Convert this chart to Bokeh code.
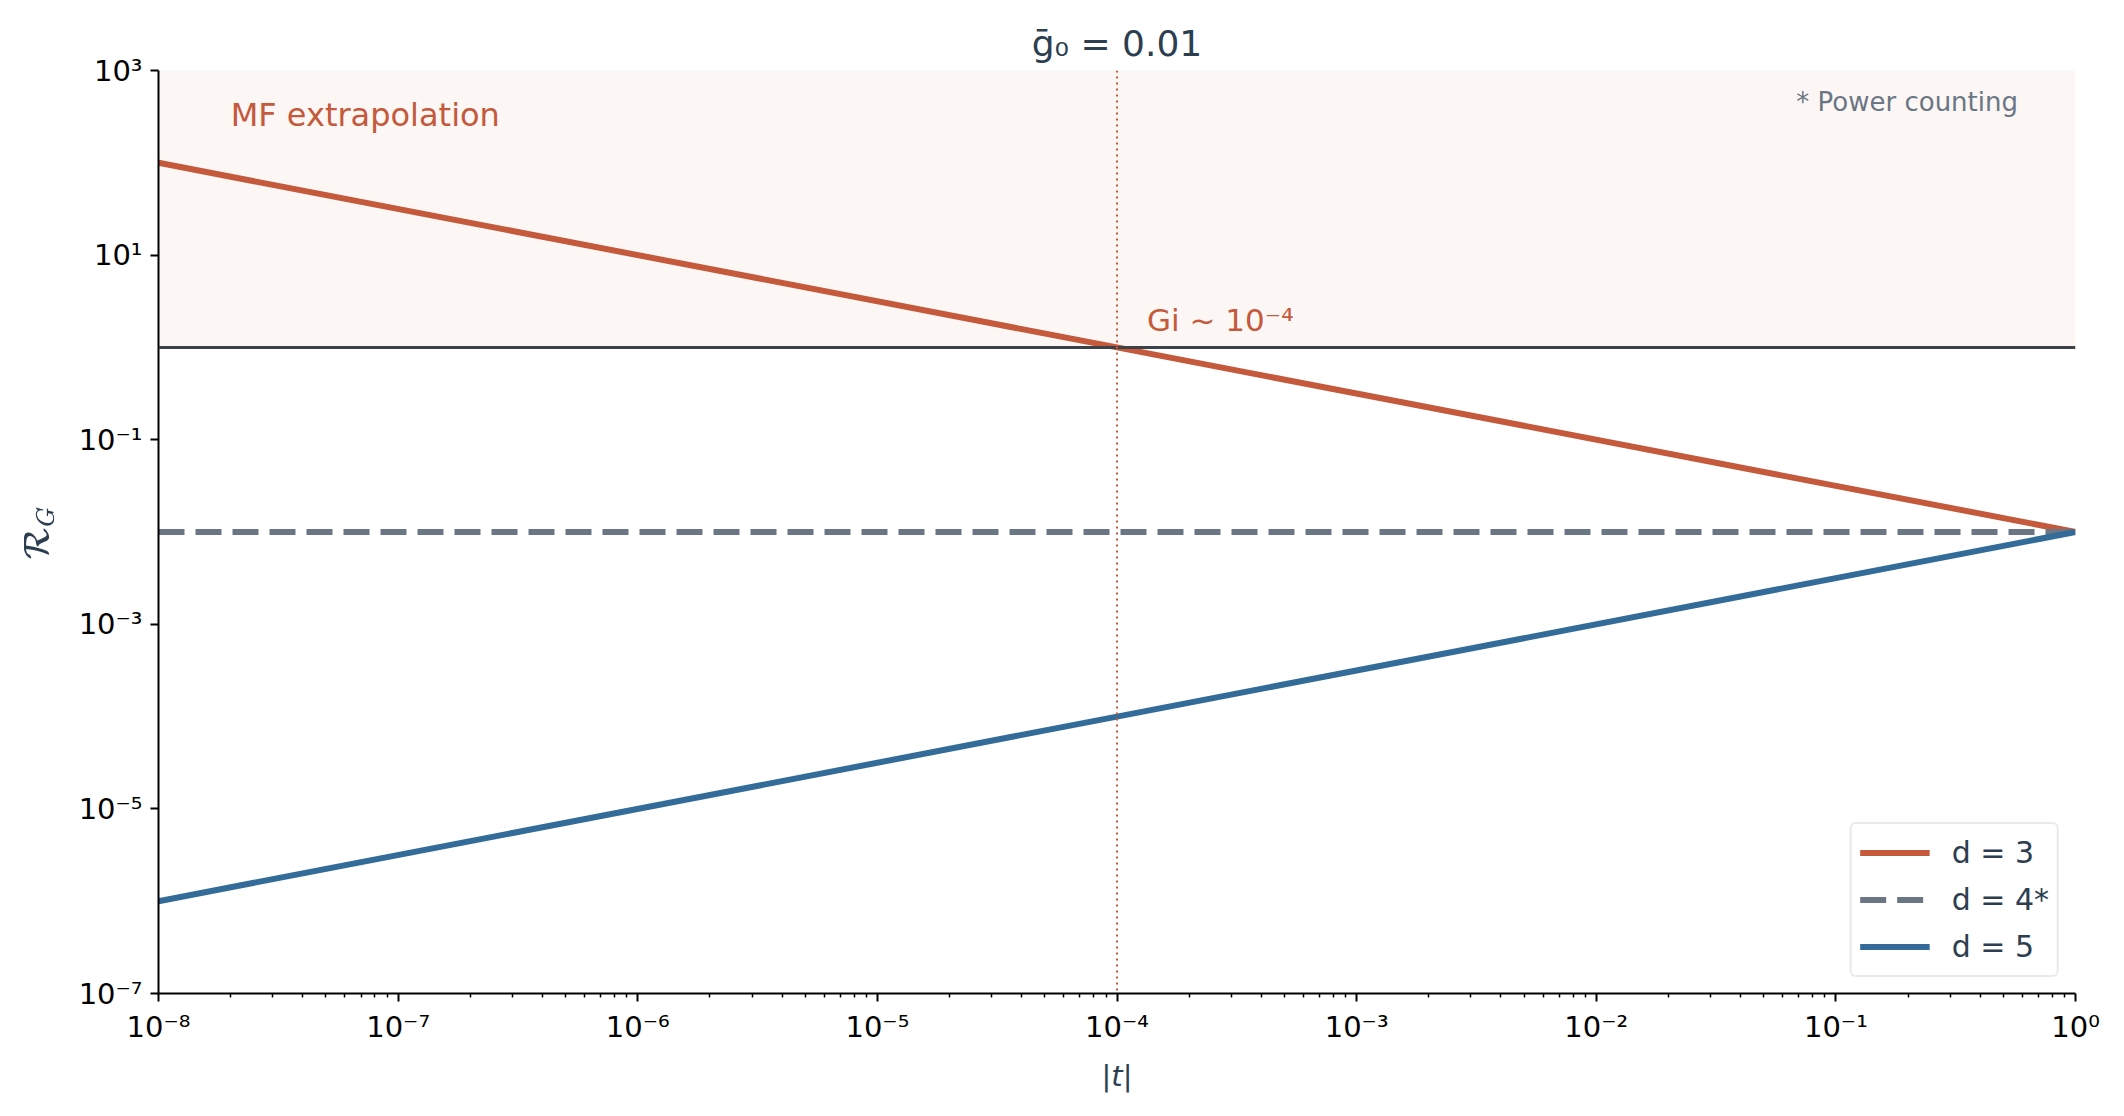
import numpy as np
from bokeh.plotting import figure
from bokeh.models import (Range1d, BoxAnnotation, Span, Label, Legend, LegendItem,
                          FixedTicker, CustomJSTickFormatter)
from bokeh.embed import file_html
from bokeh.resources import INLINE

# values (straight lines on log-log axes)
t_vals = [1e-8, 1e-4, 1e0]
r_d3 = [1e2, 1e0, 1e-2]
r_d4 = [1e-2, 1e-2, 1e-2]
r_d5 = [1e-6, 1e-4, 1e-2]

series_labels = ["d = 3", "d = 4*", "d = 5"]
x_decades = list(range(-8, 1))
y_decades = [-7, -5, -3, -1, 1, 3]

gi_t = 1e-4
threshold = 1.0
shade_top = 1e3

RED = "#c4593c"
GRAY = "#6b7684"
BLUE = "#336b99"
DARK = "#2c3e50"
FONT = "DejaVu Sans"

x_lo, x_hi = 1e-8, 1e0
y_lo, y_hi = 1e-7, 1e3

p = figure(width=2108, height=1103, x_axis_type="log", y_axis_type="log",
           x_range=Range1d(x_lo, x_hi), y_range=Range1d(y_lo, y_hi),
           output_backend="svg", toolbar_location=None,
           min_border_left=158, min_border_right=33, min_border_top=70, min_border_bottom=110)

p.title.text = "ḡ₀ = 0.01"
p.title.align = "center"
p.title.text_font = FONT
p.title.text_font_size = "36px"
p.title.text_font_style = "normal"
p.title.text_color = DARK
p.title.standoff = 13

p.outline_line_color = None
p.xgrid.visible = False
p.ygrid.visible = False

# shaded mean-field region and reference lines
p.add_layout(BoxAnnotation(bottom=threshold, top=shade_top, fill_color=RED, fill_alpha=0.05,
                           line_color=None, level="underlay"))
p.add_layout(Span(location=threshold, dimension="width", line_color="#3c4248", line_width=3))
p.add_layout(Span(location=gi_t, dimension="height", line_color=RED, line_width=2,
                  line_dash="2 4"))

r3 = p.line(t_vals, r_d3, line_color=RED, line_width=6)
r4 = p.line(t_vals, r_d4, line_color=GRAY, line_width=6, line_dash="26 11")
r5 = p.line(t_vals, r_d5, line_color=BLUE, line_width=6)

# annotations
p.add_layout(Label(x=gi_t, y=threshold, x_offset=30, y_offset=27, text="Gi ~ 10⁻⁴",
                   text_font=FONT, text_font_size="31px", text_color=RED,
                   text_baseline="alphabetic"))
p.add_layout(Label(x=2e-8, y=shade_top, y_offset=-44, text="MF extrapolation",
                   text_font=FONT, text_font_size="32px", text_color=RED,
                   text_baseline="alphabetic"))
fx = 10 ** (np.log10(x_lo) + 0.97 * (np.log10(x_hi) - np.log10(x_lo)))
fy = 10 ** (np.log10(y_lo) + 0.97 * (np.log10(y_hi) - np.log10(y_lo)))
p.add_layout(Label(x=fx, y=fy, y_offset=11, text="* Power counting", text_font=FONT,
                   text_font_size="26px", text_color=GRAY, text_align="right",
                   text_baseline="top"))

# axes
fmt = CustomJSTickFormatter(code="""
    const sup = {'-':'\u207b','0':'\u2070','1':'\u00b9','2':'\u00b2','3':'\u00b3','4':'\u2074',
                 '5':'\u2075','6':'\u2076','7':'\u2077','8':'\u2078','9':'\u2079'};
    const e = Math.round(Math.log10(tick));
    return '10' + String(e).split('').map(c => sup[c]).join('');
""")

x_minor = [m * 10.0 ** k for k in x_decades[:-1] for m in range(2, 10)]
p.xaxis.ticker = FixedTicker(ticks=[10.0 ** k for k in x_decades], minor_ticks=x_minor)
p.yaxis.ticker = FixedTicker(ticks=[10.0 ** k for k in y_decades], minor_ticks=[])

for ax in (p.xaxis[0], p.yaxis[0]):
    ax.formatter = fmt
    ax.axis_line_color = "black"
    ax.axis_line_width = 2
    ax.major_tick_line_color = "black"
    ax.major_tick_line_width = 2
    ax.major_tick_in = 0
    ax.major_tick_out = 8
    ax.minor_tick_line_color = "black"
    ax.minor_tick_line_width = 1.5
    ax.minor_tick_in = 0
    ax.minor_tick_out = 4
    ax.major_label_text_font = FONT
    ax.major_label_text_font_size = "29px"
    ax.major_label_text_color = "black"
    ax.axis_label_text_font = FONT
    ax.axis_label_text_font_size = "29px"
    ax.axis_label_text_color = DARK

p.xaxis.axis_label = "|t|"
p.xaxis.axis_label_text_font_style = "italic"
p.xaxis.axis_label_standoff = 12
p.xaxis.major_label_standoff = 8
p.yaxis.axis_label = r"$$\mathcal{R}_G$$"
p.yaxis.axis_label_standoff = 18
p.yaxis.major_label_standoff = 8

legend = Legend(items=[LegendItem(label=series_labels[0], renderers=[r3]),
                       LegendItem(label=series_labels[1], renderers=[r4]),
                       LegendItem(label=series_labels[2], renderers=[r5])],
                location="bottom_right")
legend.label_text_font = FONT
legend.label_text_font_size = "30px"
legend.label_text_color = DARK
legend.glyph_width = 70
legend.glyph_height = 41
legend.label_standoff = 22
legend.spacing = 6
legend.padding = 8
legend.margin = 16
legend.border_line_color = "#d6d6d6"
legend.border_line_width = 2.5
legend.border_radius = 6
legend.background_fill_color = "white"
legend.background_fill_alpha = 1.0
p.add_layout(legend)

open("out.html", "w").write(file_html(p, INLINE))
